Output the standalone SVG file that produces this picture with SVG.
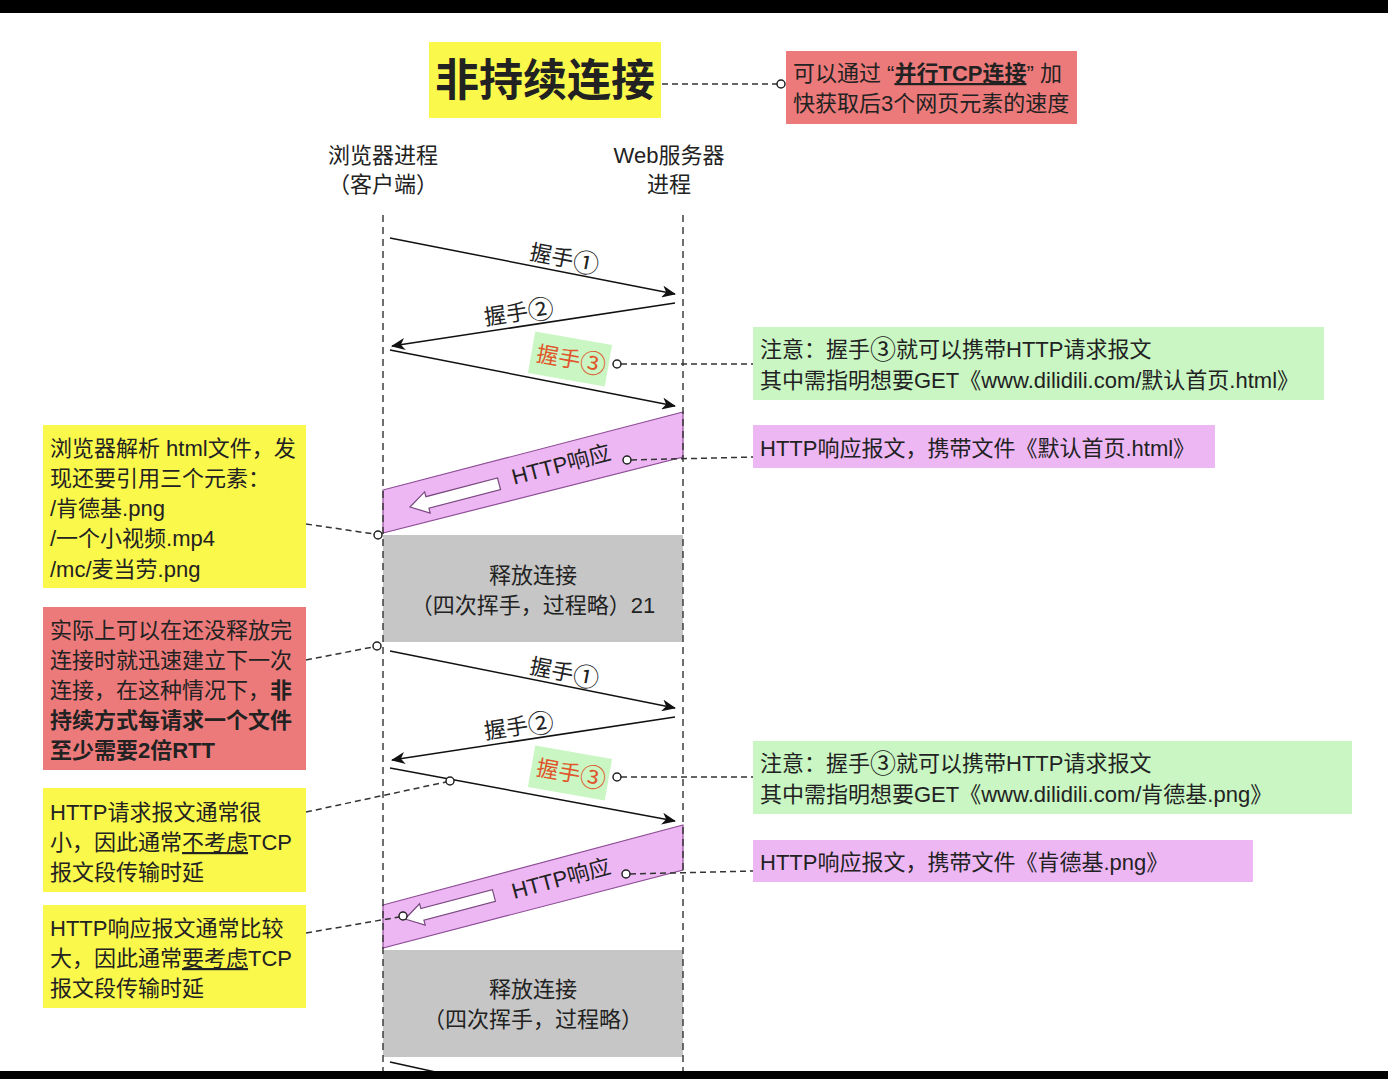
<svg xmlns="http://www.w3.org/2000/svg" width="1388" height="1079" viewBox="0 0 1388 1079">
<style>
text{font-family:"Liberation Sans","Noto Sans CJK SC",sans-serif;font-size:22px;fill:#222}
.c{text-anchor:middle}
.b{font-weight:bold}
.u{text-decoration:underline}
.cn{font-family:"Noto Sans CJK SC",sans-serif;font-size:26px}
.life{stroke:#333;stroke-width:1.4;stroke-dasharray:7 5;fill:none}
.msg{stroke:#111;stroke-width:1.5;fill:none;marker-end:url(#ah)}
.dash{stroke:#333;stroke-width:1.5;stroke-dasharray:6 4;fill:none}
.dot{fill:#fff;stroke:#222;stroke-width:1.5}
.yel{fill:#FBF84C}
.red{fill:#EC7A7A}
.grn{fill:#C9F6C2}
.pnk{fill:#EDB7F4}
.gry{fill:#C6C6C6}
.band{fill:#EDB7F4;stroke:#8E4E96;stroke-width:1.2}
.hol{fill:#fff;stroke:#7A4A80;stroke-width:1.2}
</style>
<defs>
<marker id="ah" markerWidth="14" markerHeight="12" refX="13" refY="6" orient="auto" markerUnits="userSpaceOnUse">
<path d="M0,0 L14,6 L0,12 L4,6 z" fill="#111"/>
</marker>
</defs>
<rect width="1388" height="1079" fill="#fff"/>

<g id="title">
<rect class="yel" x="429" y="42" width="232" height="76"/>
<text class="c b" x="545" y="96" style="font-size:44px">非持续连接</text>
</g>
<g id="note-parallel">
<rect class="red" x="786" y="51" width="291" height="73"/>
<text x="793" y="81">可以通过 “<tspan class="b u">并行TCP连接</tspan>” 加</text>
<text x="793" y="111">快获取后3个网页元素的速度</text>
</g>

<g id="client-header">
<text class="c" x="383" y="163">浏览器进程</text>
<text class="c" x="383" y="192">（客户端）</text>
</g>
<g id="server-header">
<text class="c" x="669" y="163">Web服务器</text>
<text class="c" x="669" y="192">进程</text>
</g>

<g id="release1">
<rect class="gry" x="383" y="535" width="300" height="107"/>
<text class="c" x="533" y="583">释放连接</text>
<text class="c" x="533" y="613">（四次挥手，过程略）21</text>
</g>
<g id="release2">
<rect class="gry" x="383" y="950" width="300" height="107"/>
<text class="c" x="533" y="997">释放连接</text>
<text class="c" x="533" y="1027">（四次挥手，过程略）</text>
</g>

<g id="response1">
<polygon class="band" points="383,490 683,412 683,457 383,533"/>
<polygon class="hol" transform="translate(410,507) rotate(-14.6)" points="0,0 18,-11 18,-6 92,-6 92,6 18,6 18,11"/>
<text class="c" transform="translate(563,472) rotate(-14.6)">HTTP响应</text>
</g>
<g id="response2">
<polygon class="band" points="383,905 683,825 683,870 383,948"/>
<polygon class="hol" transform="translate(405,919) rotate(-14.8)" points="0,0 18,-11 18,-6 92,-6 92,6 18,6 18,11"/>
<text class="c" transform="translate(563,886) rotate(-14.8)">HTTP响应</text>
</g>

<g id="lifelines">
<line class="life" x1="383" y1="215" x2="383" y2="1075"/>
<line class="life" x1="683" y1="215" x2="683" y2="1075"/>
</g>

<g id="hs3-label1">
<rect class="grn" x="-39" y="-21" width="78" height="42" transform="translate(570,359) rotate(10)"/>
<text class="c" transform="translate(570,367) rotate(10)" style="fill:#E0552B">握手<tspan class="cn" dy="2">③</tspan></text>
</g>
<g id="hs3-label2">
<rect class="grn" x="-39" y="-21" width="78" height="42" transform="translate(570,773) rotate(10)"/>
<text class="c" transform="translate(570,781) rotate(10)" style="fill:#E0552B">握手<tspan class="cn" dy="2">③</tspan></text>
</g>

<g id="note-hs3-1">
<rect class="grn" x="753" y="327" width="571" height="73"/>
<text x="760" y="357">注意：握手<tspan class="cn" dy="2">③</tspan><tspan dy="-2">就可以携带HTTP请求报文</tspan></text>
<text x="760" y="388">其中需指明想要GET《www.dilidili.com/默认首页.html》</text>
</g>
<g id="note-resp-1">
<rect class="pnk" x="753" y="425" width="462" height="43"/>
<text x="760" y="456">HTTP响应报文，携带文件《默认首页.html》</text>
</g>
<g id="note-hs3-2">
<rect class="grn" x="753" y="741" width="599" height="73"/>
<text x="760" y="771">注意：握手<tspan class="cn" dy="2">③</tspan><tspan dy="-2">就可以携带HTTP请求报文</tspan></text>
<text x="760" y="802">其中需指明想要GET《www.dilidili.com/肯德基.png》</text>
</g>
<g id="note-resp-2">
<rect class="pnk" x="753" y="840" width="500" height="42"/>
<text x="760" y="870">HTTP响应报文，携带文件《肯德基.png》</text>
</g>

<g id="note-parse">
<rect class="yel" x="43" y="425" width="263" height="163"/>
<text x="50" y="456">浏览器解析 html文件，发</text>
<text x="50" y="486">现还要引用三个元素：</text>
<text x="50" y="516">/肯德基.png</text>
<text x="50" y="546">/一个小视频.mp4</text>
<text x="50" y="577">/mc/麦当劳.png</text>
</g>
<g id="note-rtt">
<rect class="red" x="43" y="607" width="263" height="163"/>
<text x="50" y="638">实际上可以在还没释放完</text>
<text x="50" y="668">连接时就迅速建立下一次</text>
<text x="50" y="698">连接，在这种情况下，<tspan class="b">非</tspan></text>
<text x="50" y="728" class="b">持续方式每请求一个文件</text>
<text x="50" y="758" class="b">至少需要2倍RTT</text>
</g>
<g id="note-req-small">
<rect class="yel" x="43" y="788" width="263" height="104"/>
<text x="50" y="820">HTTP请求报文通常很</text>
<text x="50" y="850">小，因此通常<tspan class="u">不考虑</tspan>TCP</text>
<text x="50" y="880">报文段传输时延</text>
</g>
<g id="note-resp-big">
<rect class="yel" x="43" y="905" width="263" height="103"/>
<text x="50" y="936">HTTP响应报文通常比较</text>
<text x="50" y="966">大，因此通常<tspan class="u">要考虑</tspan>TCP</text>
<text x="50" y="996">报文段传输时延</text>
</g>

<g id="connectors">
<line class="msg" x1="390" y1="238" x2="675" y2="294"/>
<text class="c" transform="translate(563,266) rotate(11)">握手<tspan class="cn" dy="2">①</tspan></text>
<line class="msg" x1="675" y1="303" x2="392" y2="346"/>
<text class="c" transform="translate(520,320) rotate(-8.6)">握手<tspan class="cn" dy="2">②</tspan></text>
<line class="msg" x1="390" y1="350" x2="675" y2="406"/>

<line class="msg" x1="390" y1="651" x2="675" y2="708"/>
<text class="c" transform="translate(563,680) rotate(11)">握手<tspan class="cn" dy="2">①</tspan></text>
<line class="msg" x1="675" y1="717" x2="392" y2="760"/>
<text class="c" transform="translate(520,734) rotate(-8.6)">握手<tspan class="cn" dy="2">②</tspan></text>
<line class="msg" x1="390" y1="768" x2="675" y2="821"/>

<line x1="390" y1="1062" x2="440" y2="1073" stroke="#111" stroke-width="1.5"/>

<line class="dash" x1="662" y1="84" x2="777" y2="84"/>
<circle class="dot" cx="781" cy="84" r="4"/>
<line class="dash" x1="621" y1="364" x2="753" y2="364"/>
<circle class="dot" cx="617" cy="364" r="4"/>
<line class="dash" x1="631" y1="460" x2="753" y2="457"/>
<circle class="dot" cx="627" cy="460" r="4"/>
<line class="dash" x1="306" y1="524" x2="374" y2="534"/>
<circle class="dot" cx="378" cy="535" r="4"/>
<line class="dash" x1="306" y1="660" x2="373" y2="647"/>
<circle class="dot" cx="377" cy="646" r="4"/>
<line class="dash" x1="621" y1="777" x2="753" y2="777"/>
<circle class="dot" cx="617" cy="777" r="4"/>
<line class="dash" x1="630" y1="874" x2="753" y2="871"/>
<circle class="dot" cx="626" cy="874" r="4"/>
<line class="dash" x1="306" y1="812" x2="446" y2="782"/>
<circle class="dot" cx="450" cy="781" r="4"/>
<line class="dash" x1="306" y1="933" x2="399" y2="917"/>
<circle class="dot" cx="403" cy="916" r="4"/>
</g>

<rect x="0" y="0" width="1388" height="13" fill="#000"/>
<rect x="0" y="1071" width="1388" height="8" fill="#000"/>
</svg>
